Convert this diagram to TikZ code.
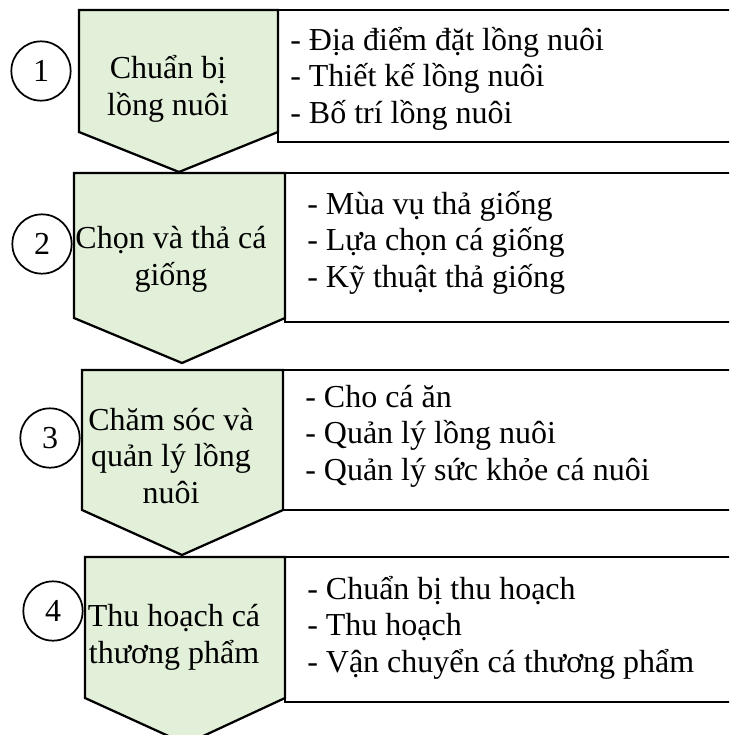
\documentclass[tikz,border=0pt]{standalone}
\usepackage{fontspec}
\setmainfont{Liberation Serif}
\definecolor{chevfill}{HTML}{E2EFD9}
\tikzset{
  chev/.style={draw=black, line width=1.7pt, fill=chevfill, line join=miter},
  infobox/.style={draw=black, line width=2pt, fill=white},
  numcirc/.style={circle, draw=black, line width=1.3pt, minimum size=44.5pt, inner sep=0pt},
  steptext/.style={align=center, inner sep=0pt, anchor=base},
  listtext/.style={align=left, inner sep=0pt, anchor=base west},
}
\begin{document}
\begin{tikzpicture}[x=0.75pt, y=-0.75pt, font=\fontsize{24}{27.2}\selectfont]
\useasboundingbox (0,0) rectangle (729,735);
\clip (0,0) rectangle (729,735);
% boxes
\draw[infobox] (278,10) rectangle (745,142);
\draw[infobox] (285,173) rectangle (745,322);
\draw[infobox] (283,370) rectangle (745,510);
\draw[infobox] (285,557) rectangle (745,702);
% chevrons
\draw[chev] (79,10) -- (278,10) -- (278,132) -- (179,172) -- (79,132) -- cycle;
\draw[chev] (74,173) -- (285,173) -- (285,318) -- (182,363) -- (74,318) -- cycle;
\draw[chev] (82,370) -- (283,370) -- (283,510) -- (182,555) -- (82,510) -- cycle;
\draw[chev] (85,557) -- (285,557) -- (285,698) -- (186,744) -- (85,698) -- cycle;
% circles
\node[numcirc] (n1) at (41,71) {1};
\node[numcirc] (n2) at (42,244) {2};
\node[numcirc] (n3) at (50,438) {3};
\node[numcirc] (n4) at (53,611) {4};
% step texts (anchored at the baseline of the last line)
\node[steptext] (s1) at (168,115) {Chuẩn bị\\lồng nuôi};
\node[steptext] (s2) at (171,285) {Chọn và thả cá\\giống};
\node[steptext] (s3) at (171,503) {Chăm sóc và\\quản lý lồng\\nuôi};
\node[steptext] (s4) at (174,663) {Thu hoạch cá\\thương phẩm};
% list texts (anchored at the baseline of the last line)
\node[listtext] (l1) at (290,123) {- Địa điểm đặt lồng nuôi\\- Thiết kế lồng nuôi\\- Bố trí lồng nuôi};
\node[listtext] (l2) at (307,287) {- Mùa vụ thả giống\\- Lựa chọn cá giống\\- Kỹ thuật thả giống};
\node[listtext] (l3) at (305,480) {- Cho cá ăn\\- Quản lý lồng nuôi\\- Quản lý sức khỏe cá nuôi};
\node[listtext] (l4) at (307,672) {- Chuẩn bị thu hoạch\\- Thu hoạch\\- Vận chuyển cá thương phẩm};
\end{tikzpicture}
\end{document}
